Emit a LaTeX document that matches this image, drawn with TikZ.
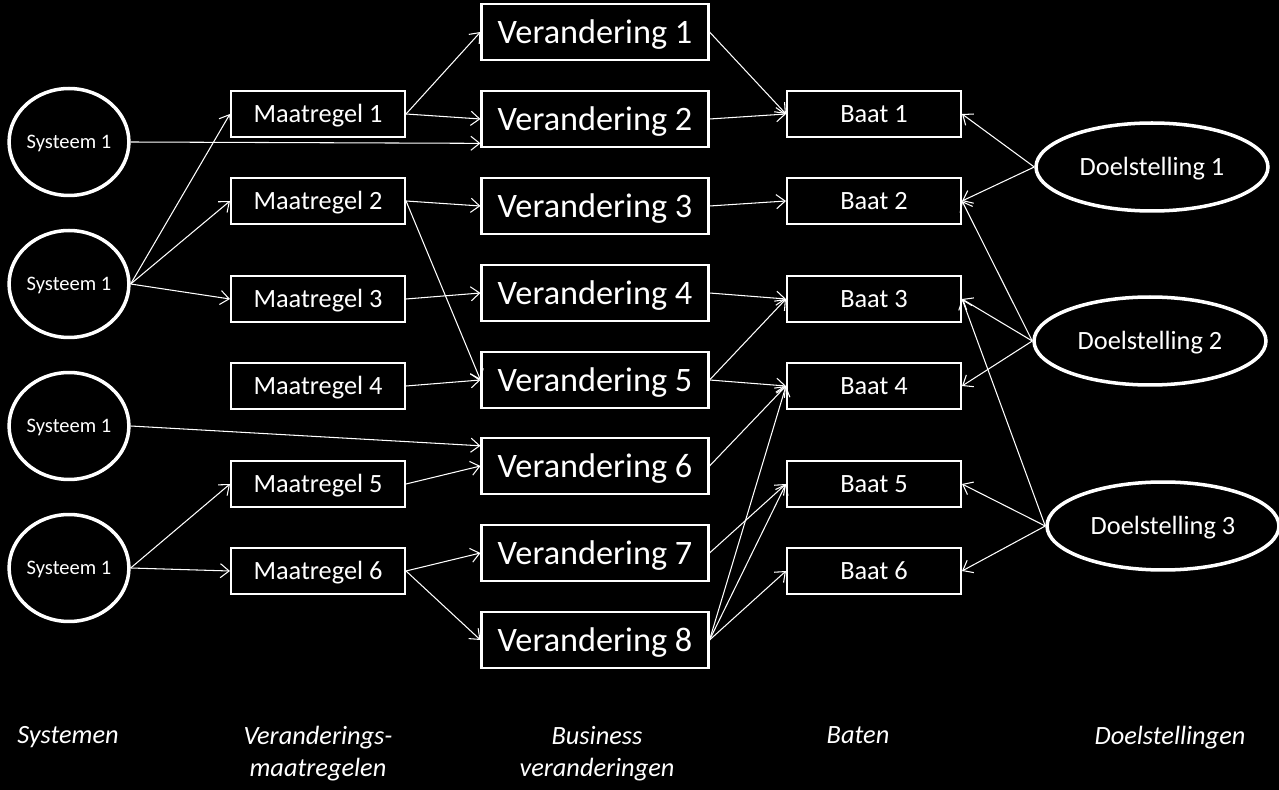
\documentclass[tikz,border=0pt]{standalone}
\usepackage{fontspec}
\setmainfont{Carlito}
\usetikzlibrary{shapes.geometric, arrows.meta}

\begin{document}
\begin{tikzpicture}[x=0.02cm, y=-0.02cm,
    every node/.style={text=white, align=center, font=\fontsize{15}{18}\selectfont},
    systeem/.style={ellipse, draw=white, line width=2pt, minimum width=2.28cm, minimum height=2.14cm, inner sep=0pt, font=\fontsize{11.7}{14}\selectfont, text height=7.5pt, text depth=0pt},
    maatregel/.style={rectangle, draw=white, line width=1.2pt, minimum width=3.48cm, minimum height=0.92cm, text height=9.7pt, text depth=0pt},
    verandering/.style={rectangle, draw=white, line width=1.2pt, minimum width=4.54cm, minimum height=1.12cm, font=\fontsize{19.5}{23}\selectfont, text height=12.6pt, text depth=0pt},
    baat/.style={maatregel},
    doel/.style={ellipse, draw=white, line width=2pt, minimum width=4.64cm, minimum height=1.76cm, inner sep=0pt, text height=9.7pt, text depth=0pt},
    kop/.style={anchor=north, inner sep=0pt, font=\fontsize{15}{18}\selectfont\itshape},
    pijl/.style={-{Straight Barb[length=5pt, width=8pt]}, draw=white, line width=0.6pt}]
    \fill[black] (0,0) rectangle (1279,790);
    \useasboundingbox (0,0) rectangle (1279,790);
    % systemen
    \node[systeem] (s1) at (69,142) {Systeem 1};
    \node[systeem] (s2) at (69,284) {Systeem 1};
    \node[systeem] (s3) at (69,426) {Systeem 1};
    \node[systeem] (s4) at (69,568) {Systeem 1};
    % veranderingsmaatregelen
    \node[maatregel] (m1) at (318,114) {Maatregel 1};
    \node[maatregel] (m2) at (318,201) {Maatregel 2};
    \node[maatregel] (m3) at (318,299) {Maatregel 3};
    \node[maatregel] (m4) at (318,386) {Maatregel 4};
    \node[maatregel] (m5) at (318,484) {Maatregel 5};
    \node[maatregel] (m6) at (318,571) {Maatregel 6};
    % business veranderingen
    \node[verandering] (v1) at (595,32) {Verandering 1};
    \node[verandering] (v2) at (595,119) {Verandering 2};
    \node[verandering] (v3) at (595,206) {Verandering 3};
    \node[verandering] (v4) at (595,293) {Verandering 4};
    \node[verandering] (v5) at (595,380) {Verandering 5};
    \node[verandering] (v6) at (595,466) {Verandering 6};
    \node[verandering] (v7) at (595,553) {Verandering 7};
    \node[verandering] (v8) at (595,640) {Verandering 8};
    % baten
    \node[baat] (b1) at (874,114) {Baat 1};
    \node[baat] (b2) at (874,201) {Baat 2};
    \node[baat] (b3) at (874,299) {Baat 3};
    \node[baat] (b4) at (874,386) {Baat 4};
    \node[baat] (b5) at (874,484) {Baat 5};
    \node[baat] (b6) at (874,571) {Baat 6};
    % doelstellingen
    \node[doel] (d1) at (1152,167) {Doelstelling 1};
    \node[doel] (d2) at (1150,341) {Doelstelling 2};
    \node[doel] (d3) at (1163,526) {Doelstelling 3};
    % koppen
    \node[kop] (sysk) at (68,726) {Systemen};
    \node[kop] (maatk) at (318,726) {Veranderings-\\maatregelen};
    \node[kop] (busk) at (597,726) {Business\\veranderingen};
    \node[kop] (baatk) at (858,726) {Baten};
    \node[kop] (doelk) at (1170,726) {Doelstellingen};
    % systemen -> maatregelen / veranderingen
    \draw[pijl] (s1.east) -- (v2.192);
    \draw[pijl] (s2.east) -- (m1.west);
    \draw[pijl] (s2.east) -- (m2.west);
    \draw[pijl] (s2.east) -- (m3.west);
    \draw[pijl] (s3.east) -- (v6.170);
    \draw[pijl] (s4.east) -- (m5.west);
    \draw[pijl] (s4.east) -- (m6.west);
    % maatregelen -> veranderingen
    \draw[pijl] (m1.east) -- (v1.west);
    \draw[pijl] (m1.east) -- (v2.west);
    \draw[pijl] (m2.east) -- (v3.west);
    \draw[pijl] (m2.east) -- (v5.west);
    \draw[pijl] (m3.east) -- (v4.west);
    \draw[pijl] (m4.east) -- (v5.west);
    \draw[pijl] (m5.east) -- (v6.west);
    \draw[pijl] (m6.east) -- (v7.west);
    \draw[pijl] (m6.east) -- (v8.west);
    % veranderingen -> baten
    \draw[pijl] (v1.east) -- (b1.west);
    \draw[pijl] (v2.east) -- (b1.west);
    \draw[pijl] (v3.east) -- (b2.west);
    \draw[pijl] (v4.east) -- (b3.west);
    \draw[pijl] (v5.east) -- (b3.west);
    \draw[pijl] (v5.east) -- (b4.west);
    \draw[pijl] (v6.east) -- (b4.west);
    \draw[pijl] (v7.east) -- (b5.west);
    \draw[pijl] (v8.east) -- (b4.west);
    \draw[pijl] (v8.east) -- (b5.west);
    \draw[pijl] (v8.east) -- (b6.west);
    % doelstellingen -> baten
    \draw[pijl] (d1.west) -- (b1.east);
    \draw[pijl] (d1.west) -- (b2.east);
    \draw[pijl] (d2.west) -- (b2.east);
    \draw[pijl] (d2.west) -- (b3.east);
    \draw[pijl] (d2.west) -- (b4.east);
    \draw[pijl] (d3.west) -- (b3.east);
    \draw[pijl] (d3.west) -- (b5.east);
    \draw[pijl] (d3.west) -- (b6.east);
\end{tikzpicture}
\end{document}
